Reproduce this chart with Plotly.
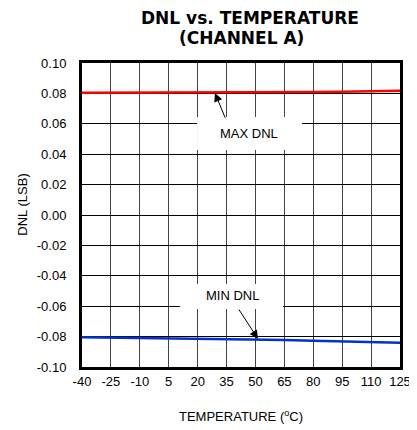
import plotly.graph_objects as go

temps = [-40, -25, -10, 5, 20, 35, 50, 65, 80, 95, 110, 125]
x_tick_labels = ["-40", "-25", "-10", "5", "20", "35", "50", "65", "80", "95", "110", "125"]
max_dnl = [0.0805, 0.0805, 0.0805, 0.0805, 0.0806, 0.0806, 0.0807, 0.0808, 0.0809, 0.0811, 0.0815, 0.0818]
min_dnl = [-0.0805, -0.0807, -0.0809, -0.0811, -0.0813, -0.0816, -0.0819, -0.0823, -0.0827, -0.0831, -0.0836, -0.0840]
y_ticks = [0.10, 0.08, 0.06, 0.04, 0.02, 0.00, -0.02, -0.04, -0.06, -0.08, -0.10]
y_tick_labels = ["0.10", "0.08", "0.06", "0.04", "0.02", "0.00", "-0.02", "-0.04", "-0.06", "-0.08", "-0.10"]

FONT = "Liberation Sans, Arial, sans-serif"
TFONT = "DejaVu Sans, sans-serif"

fig = go.Figure()
fig.add_trace(go.Scatter(x=temps, y=max_dnl, mode="lines", line=dict(color="#ff0000", width=2.5), showlegend=False))
fig.add_trace(go.Scatter(x=temps, y=min_dnl, mode="lines", line=dict(color="#0033cc", width=2.5), showlegend=False))

# white label boxes (between gridlines and traces)
fig.add_shape(type="rect", x0=19.7, x1=74.2, y0=0.0428, y1=0.0645, xref="x", yref="y",
              fillcolor="white", line=dict(width=0), layer="between")
fig.add_shape(type="rect", x0=10.8, x1=64.3, y0=-0.0618, y1=-0.0454, xref="x", yref="y",
              fillcolor="white", line=dict(width=0), layer="between")

fig.add_annotation(x=46.5, y=0.0535, text="MAX DNL", showarrow=False, font=dict(family=FONT, size=13, color="black"))
fig.add_annotation(x=38.0, y=-0.0532, text="MIN DNL", showarrow=False, font=dict(family=FONT, size=13, color="black"))

# arrows
fig.add_annotation(x=29.0, y=0.0803, ax=34.6, ay=0.0630, axref="x", ayref="y", text="",
                   showarrow=True, arrowhead=2, arrowsize=1.7, arrowwidth=1, arrowcolor="black")
fig.add_annotation(x=51.3, y=-0.0815, ax=40.9, ay=-0.0612, axref="x", ayref="y", text="",
                   showarrow=True, arrowhead=2, arrowsize=1.7, arrowwidth=1, arrowcolor="black")

# title lines
fig.add_annotation(x=0.528, y=1.149, xref="paper", yref="paper", text="<b>DNL vs. TEMPERATURE</b>",
                   showarrow=False, xanchor="center", yanchor="middle", font=dict(family=TFONT, size=17, color="black"))
fig.add_annotation(x=0.500, y=1.081, xref="paper", yref="paper", text="<b>(CHANNEL A)</b>",
                   showarrow=False, xanchor="center", yanchor="middle", font=dict(family=TFONT, size=17, color="black"))

# y axis title
fig.add_annotation(x=-0.1865, y=0.533, xref="paper", yref="paper", text="DNL (LSB)", textangle=-90,
                   showarrow=False, xanchor="center", yanchor="middle", font=dict(family=FONT, size=13, color="black"))

fig.update_layout(
    width=409, height=422,
    margin=dict(l=74, r=17, t=55, b=63, autoexpand=False),
    paper_bgcolor="white", plot_bgcolor="white",
    font=dict(family=FONT, size=13, color="black"),
)
fig.update_xaxes(range=[-40, 125], tickvals=temps, ticktext=x_tick_labels, ticks="", showgrid=True,
                 gridcolor="#444444", gridwidth=1,
                 showline=True, linecolor="black", linewidth=3, mirror=True, zeroline=False,
                 title=dict(text="TEMPERATURE (<sup>o</sup>C)", font=dict(size=13), standoff=25),
                 tickfont=dict(size=13))
fig.update_yaxes(range=[-0.10, 0.10], tickvals=y_ticks, ticktext=y_tick_labels, ticks="", showgrid=True,
                 gridcolor="black", gridwidth=1, showline=True, linecolor="black", linewidth=3, mirror=True,
                 zeroline=False, ticklabelstandoff=10,
                 tickfont=dict(size=13))

fig.write_html("out.html")
